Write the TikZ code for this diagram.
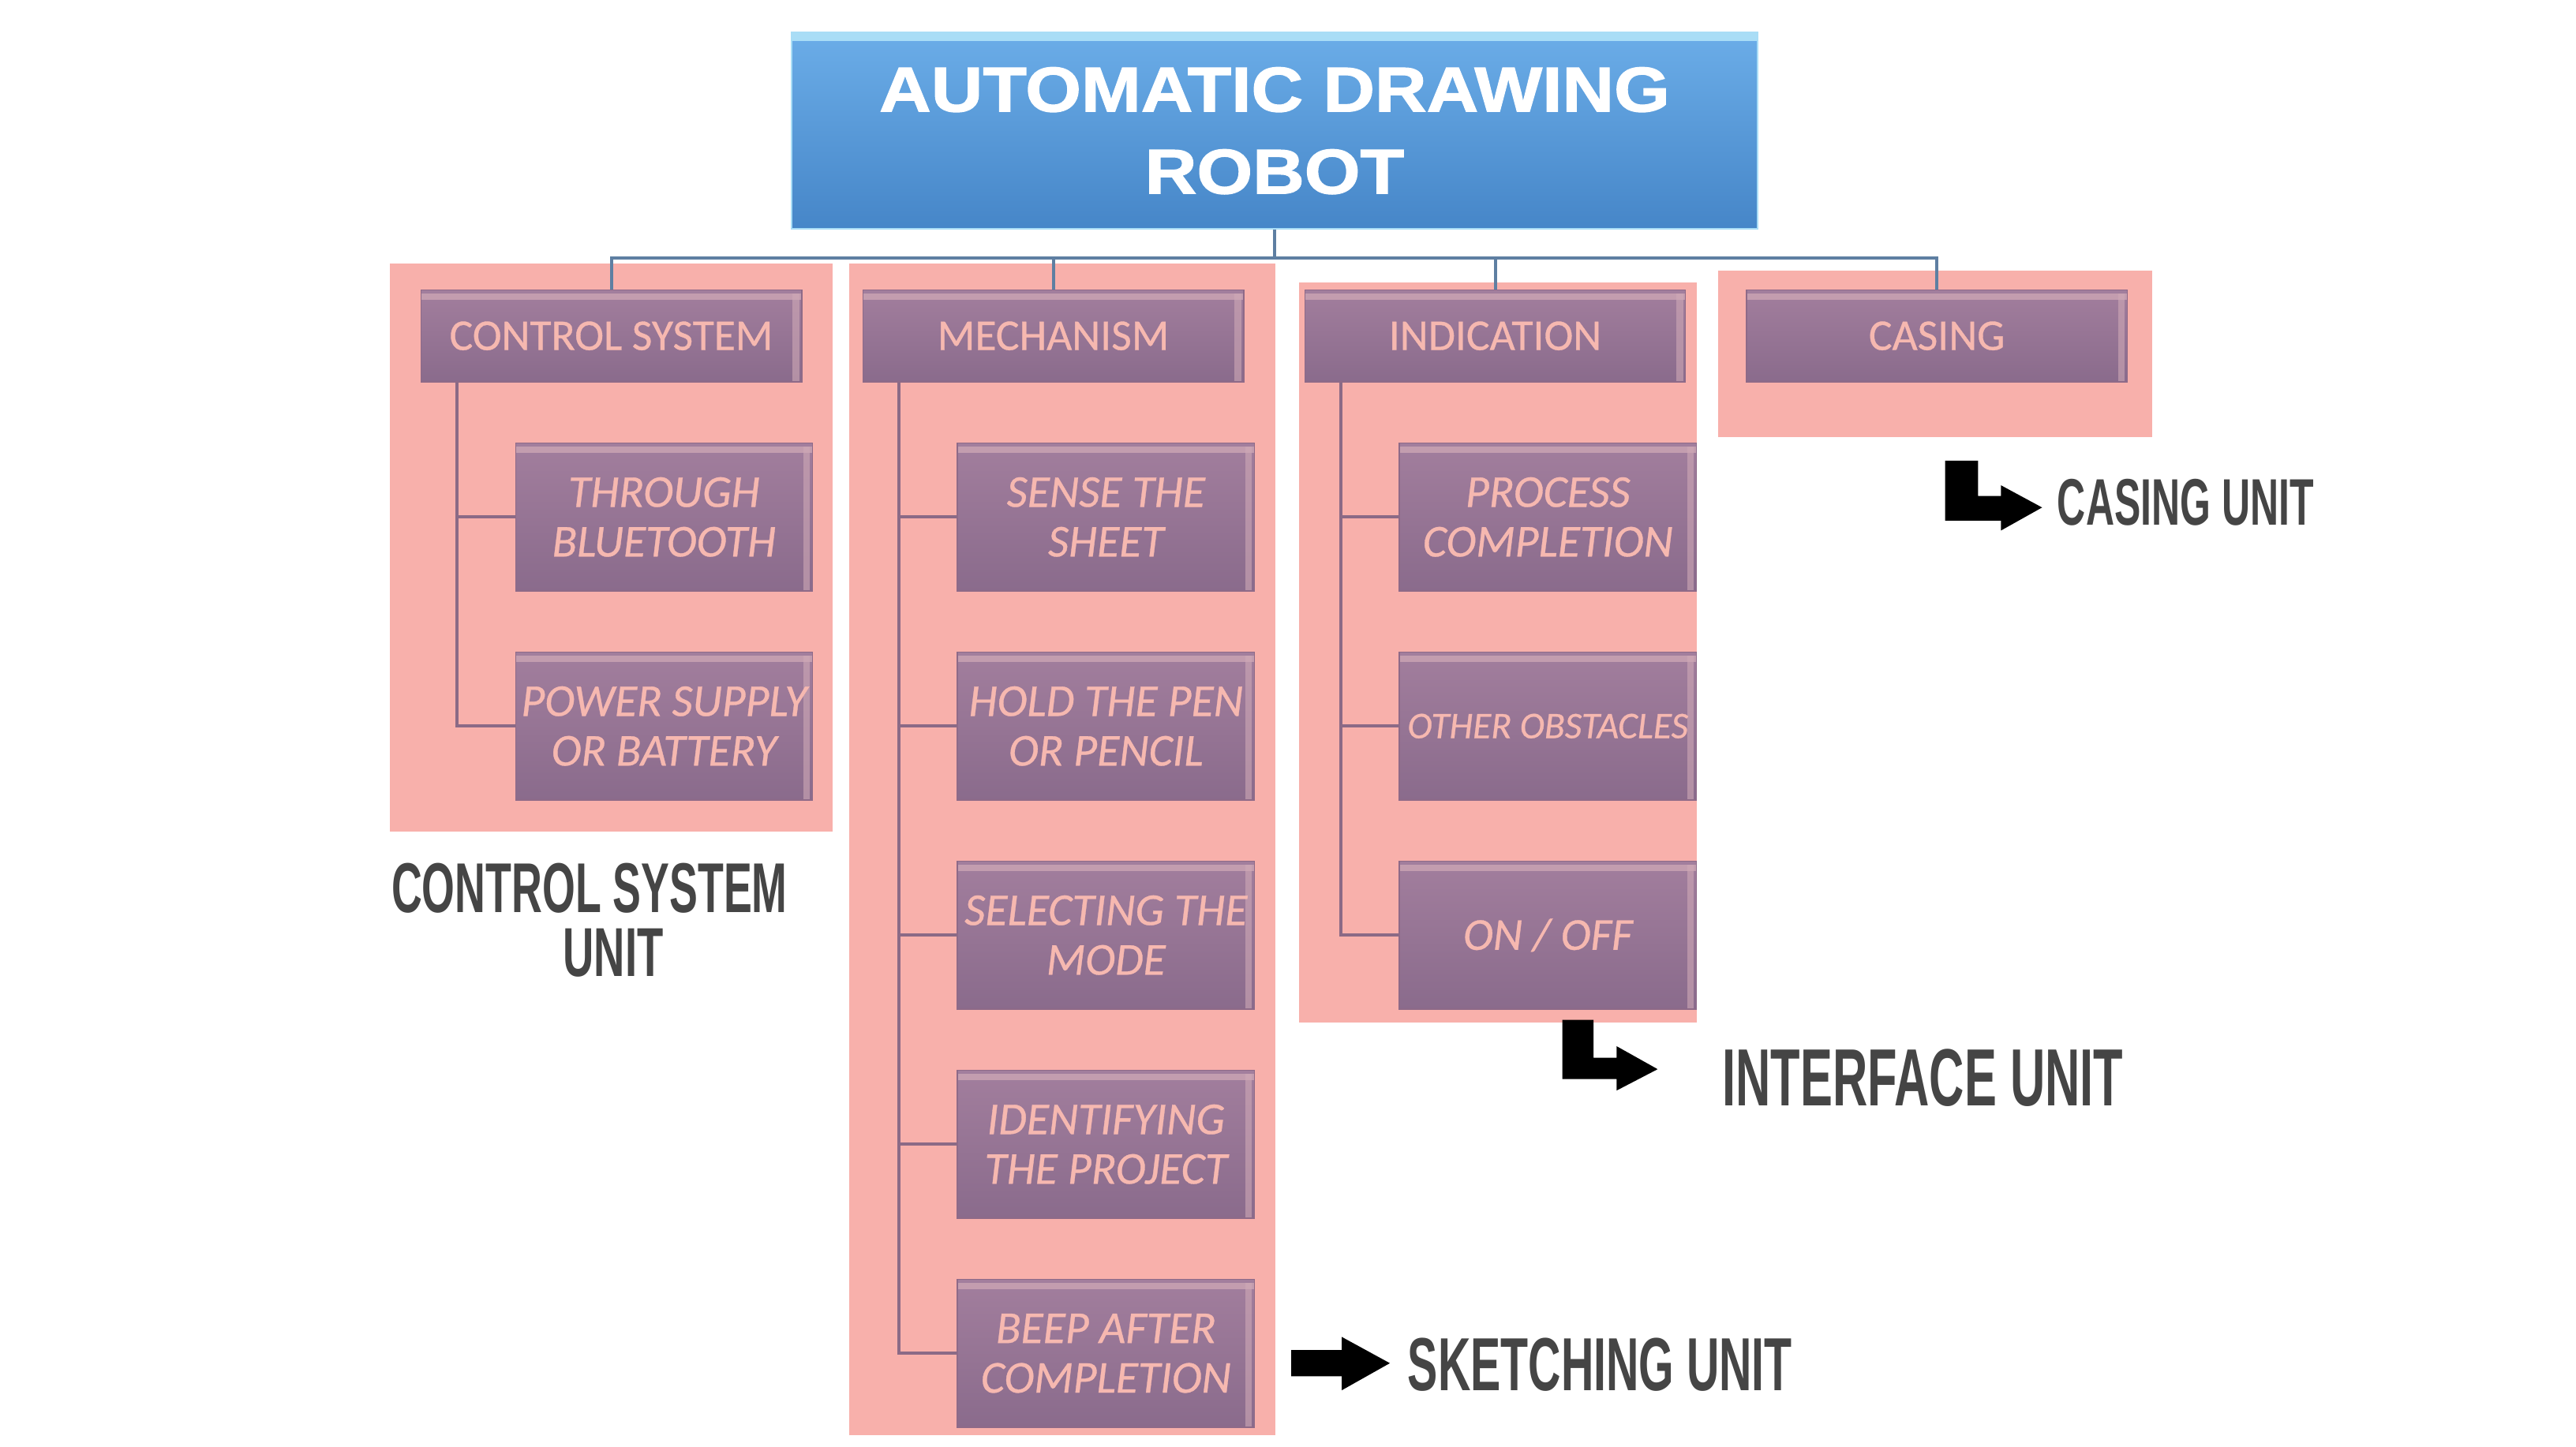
\documentclass[tikz,border=0pt]{standalone}
\usepackage{fontspec}
\usepackage{graphicx}
\setmainfont{Carlito}
\newfontfamily\boxfont{Carlito}[FakeBold=0.6]
\newfontfamily\titlefont{Liberation Sans}[FakeBold=1.4]
\newfontfamily\unitfont{Liberation Sans}
\definecolor{panelpink}{HTML}{F8B0AB}
\definecolor{boxtop}{HTML}{A27E9D}
\definecolor{boxbot}{HTML}{8A6B8C}
\definecolor{boxedge}{HTML}{8E6A88}
\definecolor{boxhl}{HTML}{CFA9B6}
\definecolor{boxtext}{HTML}{F6B8B0}
\definecolor{bluetop}{HTML}{6BADE8}
\definecolor{bluebot}{HTML}{4686C8}
\definecolor{bluehl}{HTML}{A9DDF6}
\definecolor{topline}{HTML}{5E7FA2}
\definecolor{inline}{HTML}{8B6A86}
\definecolor{labelgray}{HTML}{454545}
\newcommand\unitlbl[3]{\resizebox{#1}{#2}{\unitfont\bfseries #3}}
\begin{document}
\begin{tikzpicture}[x=0.02cm,y=-0.02cm,
  panel/.style={fill=panelpink},
  hdr/.style={rectangle, inner sep=0pt, minimum width=4.636cm, minimum height=1.12cm,
    top color=boxtop, bottom color=boxbot, draw=boxedge, line width=0.4pt,
    text=boxtext, align=center, font=\boxfont\fontsize{15.2}{18}\selectfont,
    path picture={
      \fill[boxhl,opacity=0.75] ([yshift=-0.04cm]path picture bounding box.north west) rectangle ([yshift=-0.12cm]path picture bounding box.north east);
      \fill[boxhl,opacity=0.6] ([xshift=-0.11cm,yshift=-0.04cm]path picture bounding box.north east) rectangle ([xshift=-0.03cm]path picture bounding box.south east);
    }},
  child/.style={hdr, minimum width=3.616cm, minimum height=1.8cm,
    font=\boxfont\fontsize{15.8}{17.2}\selectfont\itshape},
  titlebox/.style={rectangle, inner sep=0pt, minimum width=11.768cm, minimum height=2.386cm,
    top color=bluetop, bottom color=bluebot, draw=bluehl, line width=0.6pt,
    text=white, align=center, font=\titlefont\bfseries\fontsize{22}{28.45}\selectfont,
    path picture={
      \fill[bluehl] (path picture bounding box.north west) rectangle ([yshift=-0.1cm]path picture bounding box.north east);
    }},
  tline/.style={draw=topline, line width=1.1pt},
  iline/.style={draw=inline, line width=1pt},
  ulabel/.style={anchor=south west, inner sep=0pt, text=labelgray}
]
\useasboundingbox[fill=white] (0,0) rectangle (1568,881);

% pink panels
\fill[panel] (237.2,160.3) rectangle (507,506.5);
\fill[panel] (517,160.3) rectangle (776.4,874);
\fill[panel] (790.5,172) rectangle (1032.7,622.4);
\fill[panel] (1046,165) rectangle (1310,266);

% title
\node[titlebox] (top) at (775.8,79.6) {\scalebox{1.13}[1]{AUTOMATIC DRAWING}\\\scalebox{1.13}[1]{ROBOT}};

% headers
\node[hdr] (h1) at (372.1,204.5) {CONTROL SYSTEM};
\node[hdr] (h2) at (641.1,204.5) {MECHANISM};
\node[hdr] (h3) at (910.1,204.5) {INDICATION};
\node[hdr] (h4) at (1178.9,204.5) {CASING};

% top connectors
\coordinate (hub) at (775.8,157);
\draw[tline] (top.south) -- (hub);
\draw[tline] (h1.north) |- (hub);
\draw[tline] (h2.north) |- (hub);
\draw[tline] (h3.north) |- (hub);
\draw[tline] (h4.north) |- (hub);

% control system children
\node[child] (c1) at (404.2,314.8) {THROUGH\\BLUETOOTH};
\node[child] (c2) at (404.2,442.1) {POWER SUPPLY\\OR BATTERY};
% mechanism children
\node[child] (m1) at (673.2,314.8) {SENSE THE\\SHEET};
\node[child] (m2) at (673.2,442.1) {HOLD THE PEN\\OR PENCIL};
\node[child] (m3) at (673.2,569.4) {SELECTING THE\\MODE};
\node[child] (m4) at (673.2,696.7) {IDENTIFYING\\THE PROJECT};
\node[child] (m5) at (673.2,824.0) {BEEP AFTER\\COMPLETION};
% indication children
\node[child] (i1) at (942.2,314.8) {PROCESS\\COMPLETION};
\node[child, font=\boxfont\fontsize{13}{15}\selectfont\itshape] (i2) at (942.2,442.1) {OTHER OBSTACLES};
\node[child] (i3) at (942.2,569.4) {ON / OFF};

% inner connectors
\foreach \c in {c1,c2} \draw[iline] ([xshift=0.448cm]h1.south west) |- (\c.west);
\foreach \c in {m1,m2,m3,m4,m5} \draw[iline] ([xshift=0.448cm]h2.south west) |- (\c.west);
\foreach \c in {i1,i2,i3} \draw[iline] ([xshift=0.448cm]h3.south west) |- (\c.west);

% black arrows
\fill[black] (1184,280.5) -- (1204,280.5) -- (1204,302) -- (1218,302) -- (1218,295.5) -- (1243,309) -- (1218,323) -- (1218,317) -- (1184,317) -- cycle;
\fill[black] (951,621) -- (970,621) -- (970,644) -- (984,644) -- (984,637) -- (1009,651) -- (984,664) -- (984,657) -- (951,657) -- cycle;
\fill[black] (786,822) -- (816.7,822) -- (816.7,814) -- (846,830) -- (816.7,846.5) -- (816.7,838) -- (786,838) -- cycle;

% unit labels
\node[ulabel] (lcas) at (1252,320.6) {\unitlbl{3.12cm}{0.56cm}{CASING UNIT}};
\node[ulabel] (lint) at (1048,674) {\unitlbl{4.88cm}{0.69cm}{INTERFACE UNIT}};
\node[ulabel] (lske) at (856.6,847.5) {\unitlbl{4.68cm}{0.64cm}{SKETCHING UNIT}};
\node[ulabel, anchor=north west, align=left, font=\fontsize{10}{22.2}\selectfont] (lcs) at (238,525)
  {\unitlbl{4.82cm}{0.6cm}{CONTROL SYSTEM}\\\hspace*{2.09cm}\unitlbl{1.22cm}{0.58cm}{UNIT}};
\end{tikzpicture}
\end{document}
